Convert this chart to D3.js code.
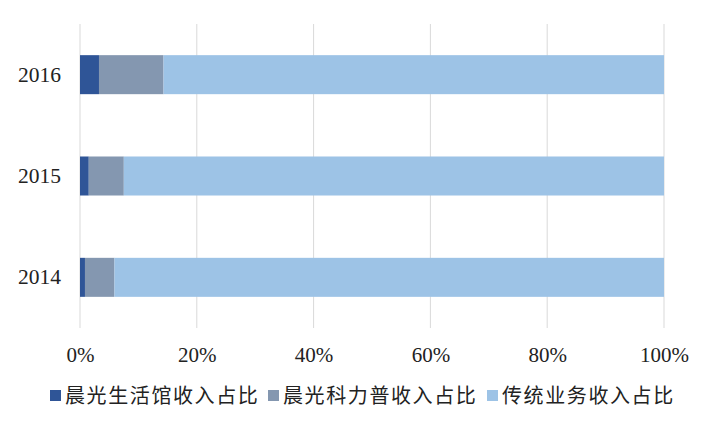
<!DOCTYPE html>
<html><head><meta charset="utf-8">
<script src="https://cdn.jsdelivr.net/npm/d3@7"></script>
<style>body{margin:0;background:#fff}svg{display:block}</style>
</head><body>
<svg id="c" width="720" height="423"></svg>
<script>
const years = ["2014", "2015", "2016"];
const seriesNames = ["晨光生活馆收入占比", "晨光科力普收入占比", "传统业务收入占比"];
const lifeHall = [0.85, 1.5, 3.25];
const keliPu = [5.05, 6.0, 11.05];
const traditional = [94.1, 92.5, 85.7];
const xTicks = [0, 20, 40, 60, 80, 100];
const colors = ["#2F5597", "#8497B0", "#9DC3E6"];

const svg = d3.select("#c");
const m = {l: 80, r: 56, t: 24, b: 95};
const W = 720, H = 423;
const x = d3.scaleLinear().domain([0, 100]).range([m.l, W - m.r]);
const y = d3.scaleBand().domain(years.slice().reverse()).range([m.t, H - m.b]).paddingInner(0.615).paddingOuter(0.3075);

const table = years.map((yr, i) => ({year: yr, a: lifeHall[i], b: keliPu[i], c: traditional[i]}));
const stack = d3.stack().keys(["a", "b", "c"])(table);

// gridlines
svg.append("g").selectAll("line").data(xTicks).join("line")
  .attr("x1", d => x(d)).attr("x2", d => x(d))
  .attr("y1", m.t).attr("y2", H - m.b)
  .attr("stroke", "#d9d9d9").attr("stroke-width", 1);

svg.append("g").selectAll("g").data(stack).join("g")
  .attr("fill", (d, i) => colors[i])
  .selectAll("rect").data(d => d).join("rect")
  .attr("x", d => x(d[0])).attr("width", d => x(d[1]) - x(d[0]))
  .attr("y", d => y(d.data.year)).attr("height", y.bandwidth());

const font = "'Liberation Serif', 'Times New Roman', serif";
// y axis labels
const ya = svg.append("g").attr("transform", `translate(${m.l},0)`)
  .call(d3.axisLeft(y).tickSize(0).tickPadding(19));
ya.select(".domain").remove();
ya.selectAll("text").attr("font-family", font).attr("font-size", 21.5).attr("fill", "#222");

// x axis labels
const xa = svg.append("g").attr("transform", `translate(0,${H - m.b})`)
  .call(d3.axisBottom(x).tickValues(xTicks).tickFormat(d => d + "%").tickSize(0).tickPadding(19));
xa.select(".domain").remove();
xa.selectAll("text").attr("font-family", font).attr("font-size", 21).attr("fill", "#222");

// legend
const legX = [50, 268, 487];
const lg = svg.append("g").selectAll("g").data(seriesNames).join("g")
  .attr("transform", (d, i) => `translate(${legX[i]},396)`);
lg.append("rect").attr("x", 0).attr("y", -6).attr("width", 11).attr("height", 11).attr("fill", (d, i) => colors[i]);
lg.append("text").attr("x", 15).attr("y", 0).attr("dy", "0.35em").text(d => d)
  .attr("font-family", "'Noto Sans CJK SC', sans-serif").attr("font-size", 20)
  .attr("letter-spacing", 1.6).attr("fill", "#222");
</script>
</body></html>
